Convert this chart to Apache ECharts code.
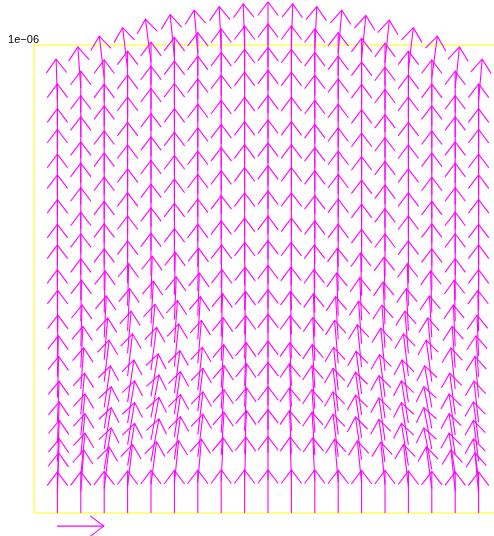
<!DOCTYPE html>
<html>
<head>
<meta charset="utf-8">
<script src="https://cdn.jsdelivr.net/npm/echarts@6/dist/echarts.min.js"></script>
<style>
  html, body { margin: 0; padding: 0; background: #ffffff; }
  #chart { width: 494px; height: 536px; }
</style>
</head>
<body>
<div id="chart"></div>
<script>
// Velocity field on a dome-topped mesh: 19 columns of nodes, 20 nodes per column.

// Column positions (m)
const colX = [0.05e-6, 0.10e-6, 0.15e-6, 0.20e-6, 0.25e-6, 0.30e-6, 0.35e-6, 0.40e-6, 0.45e-6, 0.50e-6,
              0.55e-6, 0.60e-6, 0.65e-6, 0.70e-6, 0.75e-6, 0.80e-6, 0.85e-6, 0.90e-6, 0.95e-6];

// Height of the top node in each column (m) - the domed upper boundary
const colTop = [0.882e-6, 0.908e-6, 0.930e-6, 0.947e-6, 0.964e-6, 0.974e-6, 0.983e-6, 0.990e-6, 0.996e-6, 1.000e-6,
                0.996e-6, 0.990e-6, 0.983e-6, 0.972e-6, 0.962e-6, 0.947e-6, 0.930e-6, 0.908e-6, 0.882e-6];

// Relative node heights along a column, bottom to top (centre column / edge column)
const rowEtaCenter = [0, 0.071, 0.129, 0.178, 0.230, 0.275, 0.333, 0.385, 0.437, 0.490,
                      0.542, 0.596, 0.650, 0.699, 0.748, 0.800, 0.854, 0.903, 0.953, 1];
const rowEtaEdge   = [0, 0.046, 0.080, 0.125, 0.170, 0.220, 0.280, 0.330, 0.380, 0.440,
                      0.490, 0.550, 0.600, 0.660, 0.720, 0.770, 0.830, 0.880, 0.940, 1];

// Vertical velocity in each column
const colV = [0.876, 0.880, 0.890, 0.900, 0.910, 0.910, 0.915, 0.920, 0.920, 0.920,
              0.920, 0.920, 0.915, 0.910, 0.910, 0.900, 0.890, 0.880, 0.876];

// Horizontal velocity: strength per column and its share per row
const colU = [0.04, 0.09, 0.15, 0.15, 0.17, 0.13, 0.11, 0.06, 0.04, 0,
              -0.04, -0.06, -0.11, -0.13, -0.13, -0.15, -0.17, -0.13, -0.11];
const rowU = [0, 0.7, 1, 1, 1, 0.9, 0.7, 0.5, 0.3, 0.15,
              0, 0, 0, 0, 0, 0, 0, 0, 0, -0.7];

// Reference arrow drawn under the plot (unit velocity)
const keyArrow = { x: 0.049e-6, y: -0.028e-6, u: 1, v: 0 };

// Axis extent and tick labels
const xRange = [0, 1e-6];
const yRange = [0, 1e-6];
const yTicks = [0, 1e-6];
const yTickText = ['', '1e\u221206'];

// Length in data units of a unit velocity vector
const arrowUnit = 1e-7;

const edgeTop = colTop[0];
const peakTop = Math.max.apply(null, colTop);

const nodes = [];
colX.forEach(function (x, c) {
  const w = (colTop[c] - edgeTop) / (peakTop - edgeTop);
  for (let k = 0; k < rowEtaCenter.length; k++) {
    const eta = w * rowEtaCenter[k] + (1 - w) * rowEtaEdge[k];
    nodes.push([x, colTop[c] * eta, colU[c] * rowU[k], colV[c]]);
  }
});
nodes.push([keyArrow.x, keyArrow.y, keyArrow.u, keyArrow.v]);

const HEAD_LEN = 17;
const HEAD_ANGLE = 37 * Math.PI / 180;
const ARROW_COLOR = '#ff00ff';
const FRAME_COLOR = '#ffff00';

function renderArrow(params, api) {
  const x = api.value(0), y = api.value(1), u = api.value(2), v = api.value(3);
  const p0 = api.coord([x, y]);
  const p1 = api.coord([x + u * arrowUnit, y + v * arrowUnit]);
  const a = Math.atan2(p1[1] - p0[1], p1[0] - p0[0]);
  const b1 = [p1[0] - HEAD_LEN * Math.cos(a - HEAD_ANGLE), p1[1] - HEAD_LEN * Math.sin(a - HEAD_ANGLE)];
  const b2 = [p1[0] - HEAD_LEN * Math.cos(a + HEAD_ANGLE), p1[1] - HEAD_LEN * Math.sin(a + HEAD_ANGLE)];
  const style = { stroke: ARROW_COLOR, lineWidth: 1.1, fill: null };
  return {
    type: 'group',
    children: [
      { type: 'polyline', shape: { points: [p0, p1] }, style: style },
      { type: 'polyline', shape: { points: [b1, p1, b2] }, style: style }
    ]
  };
}

const hiddenParts = {
  axisLine: { show: false }, axisTick: { show: false }, splitLine: { show: false }, splitArea: { show: false }
};

const chart = echarts.init(document.getElementById('chart'), null, { renderer: 'canvas' });
chart.setOption({
  animation: false,
  backgroundColor: '#ffffff',
  // the plot frame; its right edge falls just outside the canvas
  grid: {
    left: 34, top: 45, width: 468, height: 468,
    outerBoundsMode: 'none', containLabel: false,
    show: true, borderColor: FRAME_COLOR, borderWidth: 1, backgroundColor: 'rgba(0,0,0,0)'
  },
  xAxis: Object.assign({ type: 'value', min: xRange[0], max: xRange[1], axisLabel: { show: false } }, hiddenParts),
  yAxis: Object.assign({
    type: 'value', min: yRange[0], max: yRange[1], interval: yTicks[1] - yTicks[0],
    axisLabel: {
      show: true, margin: -5, verticalAlign: 'bottom',
      color: '#000000', fontSize: 11, fontFamily: 'Liberation Sans, Arial, sans-serif',
      formatter: function (val) {
        const i = yTicks.findIndex(function (t) { return Math.abs(t - val) < 1e-12; });
        return i >= 0 ? yTickText[i] : '';
      }
    }
  }, hiddenParts),
  series: [{
    type: 'custom',
    clip: false,
    silent: true,
    renderItem: renderArrow,
    encode: { x: 0, y: 1 },
    data: nodes
  }]
});
</script>
</body>
</html>
